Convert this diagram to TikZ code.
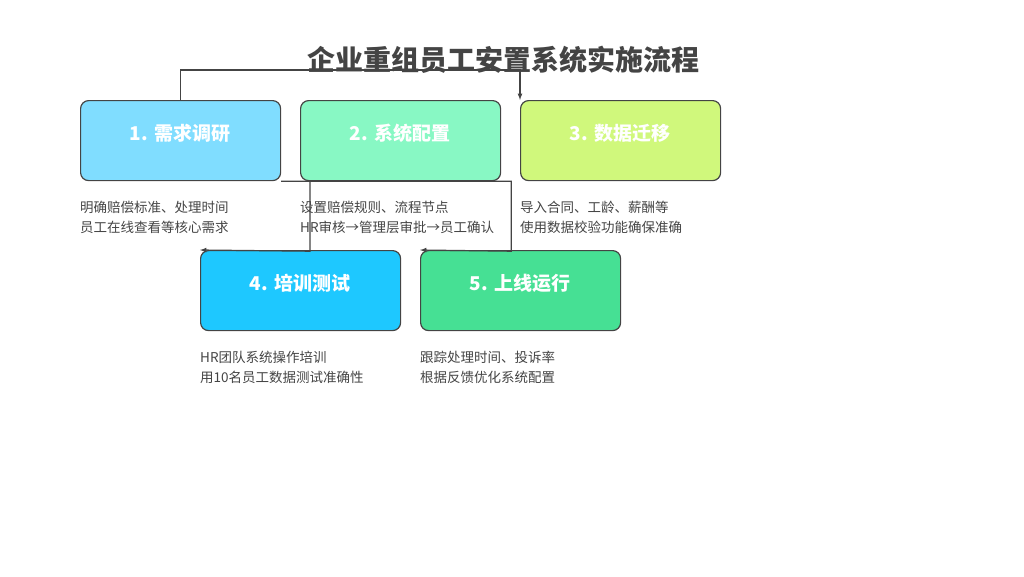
\documentclass[tikz,border=0pt]{standalone}
\usepackage{fontspec}
\setmainfont{Noto Sans CJK SC}
\usepackage{tikz}
\usetikzlibrary{positioning}
\definecolor{edgegray}{HTML}{444444}
\definecolor{textgray}{HTML}{444444}
\definecolor{cA}{HTML}{80DDFF}
\definecolor{cB}{HTML}{88F8C4}
\definecolor{cC}{HTML}{D0F87C}
\definecolor{cD}{HTML}{1EC8FF}
\definecolor{cE}{HTML}{46E094}

\begin{document}
\begin{tikzpicture}[x=1pt, y=-1pt, >=latex]
            \tikzstyle{stage} = [draw=edgegray, line width=1.2pt, rounded corners=8pt, minimum width=200pt, minimum height=80pt, anchor=north west]
            \tikzstyle{lbl} = [white, font=\fontsize{19}{22}\selectfont\bfseries]
            \tikzstyle{desc} = [anchor=north west, align=left, inner sep=0pt, text=textgray, font=\fontsize{13.5}{20}\selectfont]
            \tikzstyle{link} = [draw=edgegray, line width=1.2pt, ->]
            \useasboundingbox (0,0) rectangle (1024,576);

            \node [text=textgray, font=\fontsize{28}{32}\selectfont\bfseries] (title) at (503,60) {企业重组员工安置系统实施流程};

            \node [stage, fill=cA] (S1) at (80,100) {};
            \node [stage, fill=cB] (S2) at (300,100) {};
            \node [stage, fill=cC] (S3) at (520,100) {};
            \node [stage, fill=cD] (S4) at (200,250) {};
            \node [stage, fill=cE] (S5) at (420,250) {};

            \node [lbl] (L1) at (180,133) {1. 需求调研};
            \node [lbl] (L2) at (400,133) {2. 系统配置};
            \node [lbl] (L3) at (620,133) {3. 数据迁移};
            \node [lbl] (L4) at (300,283) {4. 培训测试};
            \node [lbl] (L5) at (520,283) {5. 上线运行};

            \node [desc] (D1) at (80,201) {明确赔偿标准、处理时间\\员工在线查看等核心需求};
            \node [desc] (D2) at (300,201) {设置赔偿规则、流程节点\\HR审核→管理层审批→员工确认};
            \node [desc] (D3) at (520,201) {导入合同、工龄、薪酬等\\使用数据校验功能确保准确};
            \node [desc] (D4) at (200,351) {HR团队系统操作培训\\用10名员工数据测试准确性};
            \node [desc] (D5) at (420,351) {跟踪处理时间、投诉率\\根据反馈优化系统配置};

            \draw [link] (S1.north) -- ++(0,-30) -| (S3.north west);
            \draw [link] (S1.south east) -- ++(230,0) -- ++(0,70) -- (S5.north west);
            \draw [link] ([xshift=10pt]S2.south west) -- ++(0,70) -- (S4.north west);
\end{tikzpicture}
\end{document}
